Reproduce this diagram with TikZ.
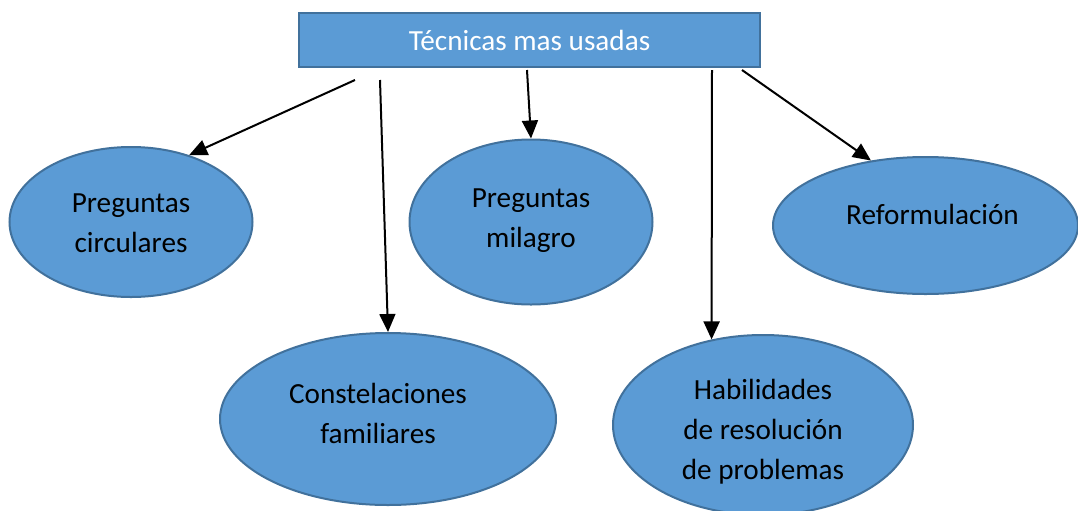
\documentclass[tikz,border=0pt]{standalone}
\usepackage{fontspec}
\setmainfont{Carlito}
\usetikzlibrary{shapes.geometric}
\usetikzlibrary{arrows.meta}
\definecolor{boxblue}{HTML}{5B9BD5}
\definecolor{boxedge}{HTML}{41719C}

\begin{document}
\begin{tikzpicture}[x=0.5pt, y=-0.5pt,
    blob/.style={ellipse, draw=boxedge, fill=boxblue, line width=1pt, inner sep=0pt},
    every label/.style={align=center, font=\fontsize{14.6}{20}\selectfont},
    link/.style={-{Triangle[length=9pt,width=8pt]}, line width=1pt}]

                % Frame
                \useasboundingbox (0,0) rectangle (1078,510);

                % Title
                \node[draw=boxedge, fill=boxblue, line width=1pt, minimum width=230.5pt, minimum height=27pt,
                      text=white, font=\fontsize{14.6}{20}\selectfont] (title) at (529.5,40) {Técnicas mas usadas};

                % Techniques
                \node[blob, minimum width=121.5pt, minimum height=75pt,
                      label={[yshift=-0.5pt]center:Preguntas\\circulares}] (circ) at (131,222) {};
                \node[blob, minimum width=168pt, minimum height=86pt,
                      label={[xshift=-5pt, yshift=3pt]center:Constelaciones\\familiares}] (const) at (388,419) {};
                \node[blob, minimum width=121.5pt, minimum height=82.5pt,
                      label={[yshift=0.5pt]center:Preguntas\\milagro}] (milagro) at (531,222) {};
                \node[blob, minimum width=150pt, minimum height=90pt,
                      label={[yshift=-3.5pt]center:Habilidades\\de resolución\\de problemas}] (habil) at (763,425) {};
                \node[blob, minimum width=152.5pt, minimum height=68.5pt,
                      label={[xshift=3.5pt, yshift=5.5pt]center:Reformulación}] (reform) at (925.5,225.5) {};

                % Arrows
                \coordinate (s1) at (355,80);
                \coordinate (s2) at (380,80);
                \coordinate (s3) at (527,70);
                \coordinate (s4) at (712,70);
                \coordinate (s5) at (742,70);
                \draw[link] (s1) -- (circ.49);
                \draw[link] (s2) -- (const.north);
                \draw[link] (s3) -- (milagro.north);
                \draw[link] (s4) -- (habil.121);
                \draw[link] (s5) -- (reform.130);
            \end{tikzpicture}
\end{document}
